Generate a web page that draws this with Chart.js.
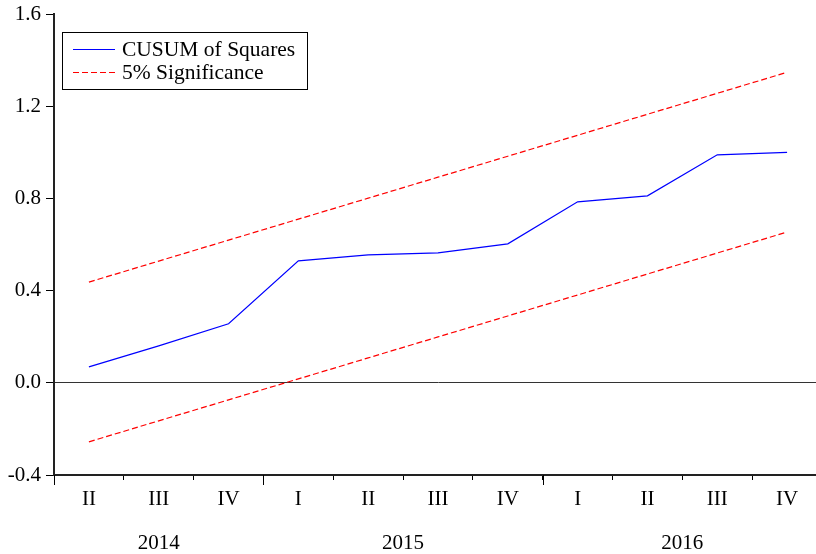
<!DOCTYPE html>
<html>
<head>
<meta charset="utf-8">
<script src="https://cdn.jsdelivr.net/npm/chart.js@4.4.1/dist/chart.umd.min.js"></script>
<style>
  html, body { margin: 0; padding: 0; background: #fff; overflow: hidden; }
  #wrap { width: 822px; height: 554px; position: relative; }
</style>
</head>
<body>
<div id="wrap"><canvas id="cusumChart"></canvas></div>
<script>
const quarters = ['II', 'III', 'IV', 'I', 'II', 'III', 'IV', 'I', 'II', 'III', 'IV'];
const years = ['2014', '2015', '2016'];
const yearSpans = [3, 4, 4];
const cusumSq = [0.069, 0.160, 0.256, 0.529, 0.555, 0.564, 0.603, 0.785, 0.811, 0.989, 1.000];
const upperBound = [0.437, 0.528, 0.619, 0.710, 0.801, 0.892, 0.983, 1.074, 1.165, 1.256, 1.347];
const lowerBound = [-0.256, -0.165, -0.074, 0.017, 0.108, 0.199, 0.290, 0.381, 0.472, 0.563, 0.654];
const yTicks = [-0.4, 0.0, 0.4, 0.8, 1.2, 1.6];

const serif = '"Liberation Serif", "Times New Roman", serif';
const fontSize = 21;

// year labels + long ticks at year boundaries
const yearAxis = {
    id: 'yearAxis',
    afterDraw(chart) {
        const ctx = chart.ctx;
        const x = chart.scales.x;
        const area = chart.chartArea;
        const half = (x.getPixelForValue(1) - x.getPixelForValue(0)) / 2;
        ctx.save();
        ctx.strokeStyle = '#000';
        ctx.lineWidth = 1;
        ctx.fillStyle = '#000';
        ctx.font = fontSize + 'px ' + serif;
        ctx.textAlign = 'center';
        ctx.textBaseline = 'middle';
        let start = 0;
        years.forEach((yr, i) => {
            const left = x.getPixelForValue(start) - half;
            const right = x.getPixelForValue(start + yearSpans[i] - 1) + half;
            ctx.beginPath();
            ctx.moveTo(Math.round(left) + 0.5, area.bottom);
            ctx.lineTo(Math.round(left) + 0.5, area.bottom + 10);
            ctx.stroke();
            ctx.fillText(yr, (left + right) / 2, area.bottom + 68);
            start += yearSpans[i];
        });
        ctx.restore();
    }
};

// boxed legend in upper left
const boxLegend = {
    id: 'boxLegend',
    afterDraw(chart) {
        const ctx = chart.ctx;
        const area = chart.chartArea;
        const bx = area.left + 8, by = area.top + 18, bw = 245, bh = 57;
        ctx.save();
        ctx.fillStyle = '#fff';
        ctx.fillRect(bx, by, bw, bh);
        ctx.strokeStyle = '#000';
        ctx.lineWidth = 1;
        ctx.strokeRect(bx + 0.5, by + 0.5, bw, bh);
        ctx.font = '21.5px ' + serif;
        ctx.textBaseline = 'middle';
        ctx.fillStyle = '#000';
        const items = [chart.data.datasets[0], chart.data.datasets[1]];
        items.forEach((ds, i) => {
            const ly = by + 17.5 + i * 23;
            ctx.strokeStyle = ds.borderColor;
            ctx.setLineDash(ds.borderDash || []);
            ctx.beginPath();
            ctx.moveTo(bx + 11, ly);
            ctx.lineTo(bx + 53, ly);
            ctx.stroke();
            ctx.setLineDash([]);
            ctx.fillText(ds.label, bx + 60, ly + 1);
        });
        ctx.restore();
    }
};

const ctx = document.getElementById('cusumChart').getContext('2d');
new Chart(ctx, {
    type: 'line',
    data: {
        labels: quarters,
        datasets: [{
            label: 'CUSUM of Squares',
            data: cusumSq,
            borderColor: '#0000ff',
            borderWidth: 1.2,
            pointRadius: 0,
            tension: 0
        }, {
            label: '5% Significance',
            data: upperBound,
            borderColor: '#ff0000',
            borderDash: [6, 3],
            borderWidth: 1.2,
            pointRadius: 0,
            tension: 0
        }, {
            label: '',
            data: lowerBound,
            borderColor: '#ff0000',
            borderDash: [6, 3],
            borderWidth: 1.2,
            pointRadius: 0,
            tension: 0
        }]
    },
    options: {
        responsive: true,
        maintainAspectRatio: false,
        animation: false,
        layout: {
            padding: { top: 14, right: 0, left: 0, bottom: 0 }
        },
        plugins: {
            legend: { display: false },
            tooltip: { enabled: false }
        },
        scales: {
            x: {
                offset: true,
                afterFit: function(scale) {
                    scale.height = 79;
                    scale.paddingLeft = 0;
                    scale.paddingRight = 0;
                },
                grid: {
                    offset: true,
                    drawOnChartArea: false,
                    tickLength: 5,
                    tickColor: '#000'
                },
                border: { color: '#222', width: 2 },
                ticks: {
                    color: '#000',
                    padding: 7,
                    maxRotation: 0,
                    autoSkip: false,
                    font: { size: fontSize, family: serif }
                }
            },
            y: {
                min: -0.4,
                max: 1.6,
                afterFit: function(scale) {
                    scale.width = 54;
                    scale.paddingTop = 0;
                    scale.paddingBottom = 0;
                },
                afterBuildTicks: function(scale) {
                    scale.ticks = yTicks.map(v => ({ value: v }));
                },
                grid: {
                    drawOnChartArea: true,
                    color: function(c) { return c.tick && c.tick.value === 0 ? '#333' : 'rgba(0,0,0,0)'; },
                    tickColor: '#000',
                    tickLength: 8
                },
                border: { color: '#222', width: 2 },
                ticks: {
                    color: '#000',
                    padding: 5,
                    font: { size: fontSize, family: serif },
                    callback: function(value) { return Number(value).toFixed(1); }
                }
            }
        }
    },
    plugins: [yearAxis, boxLegend]
});
</script>
</body>
</html>
